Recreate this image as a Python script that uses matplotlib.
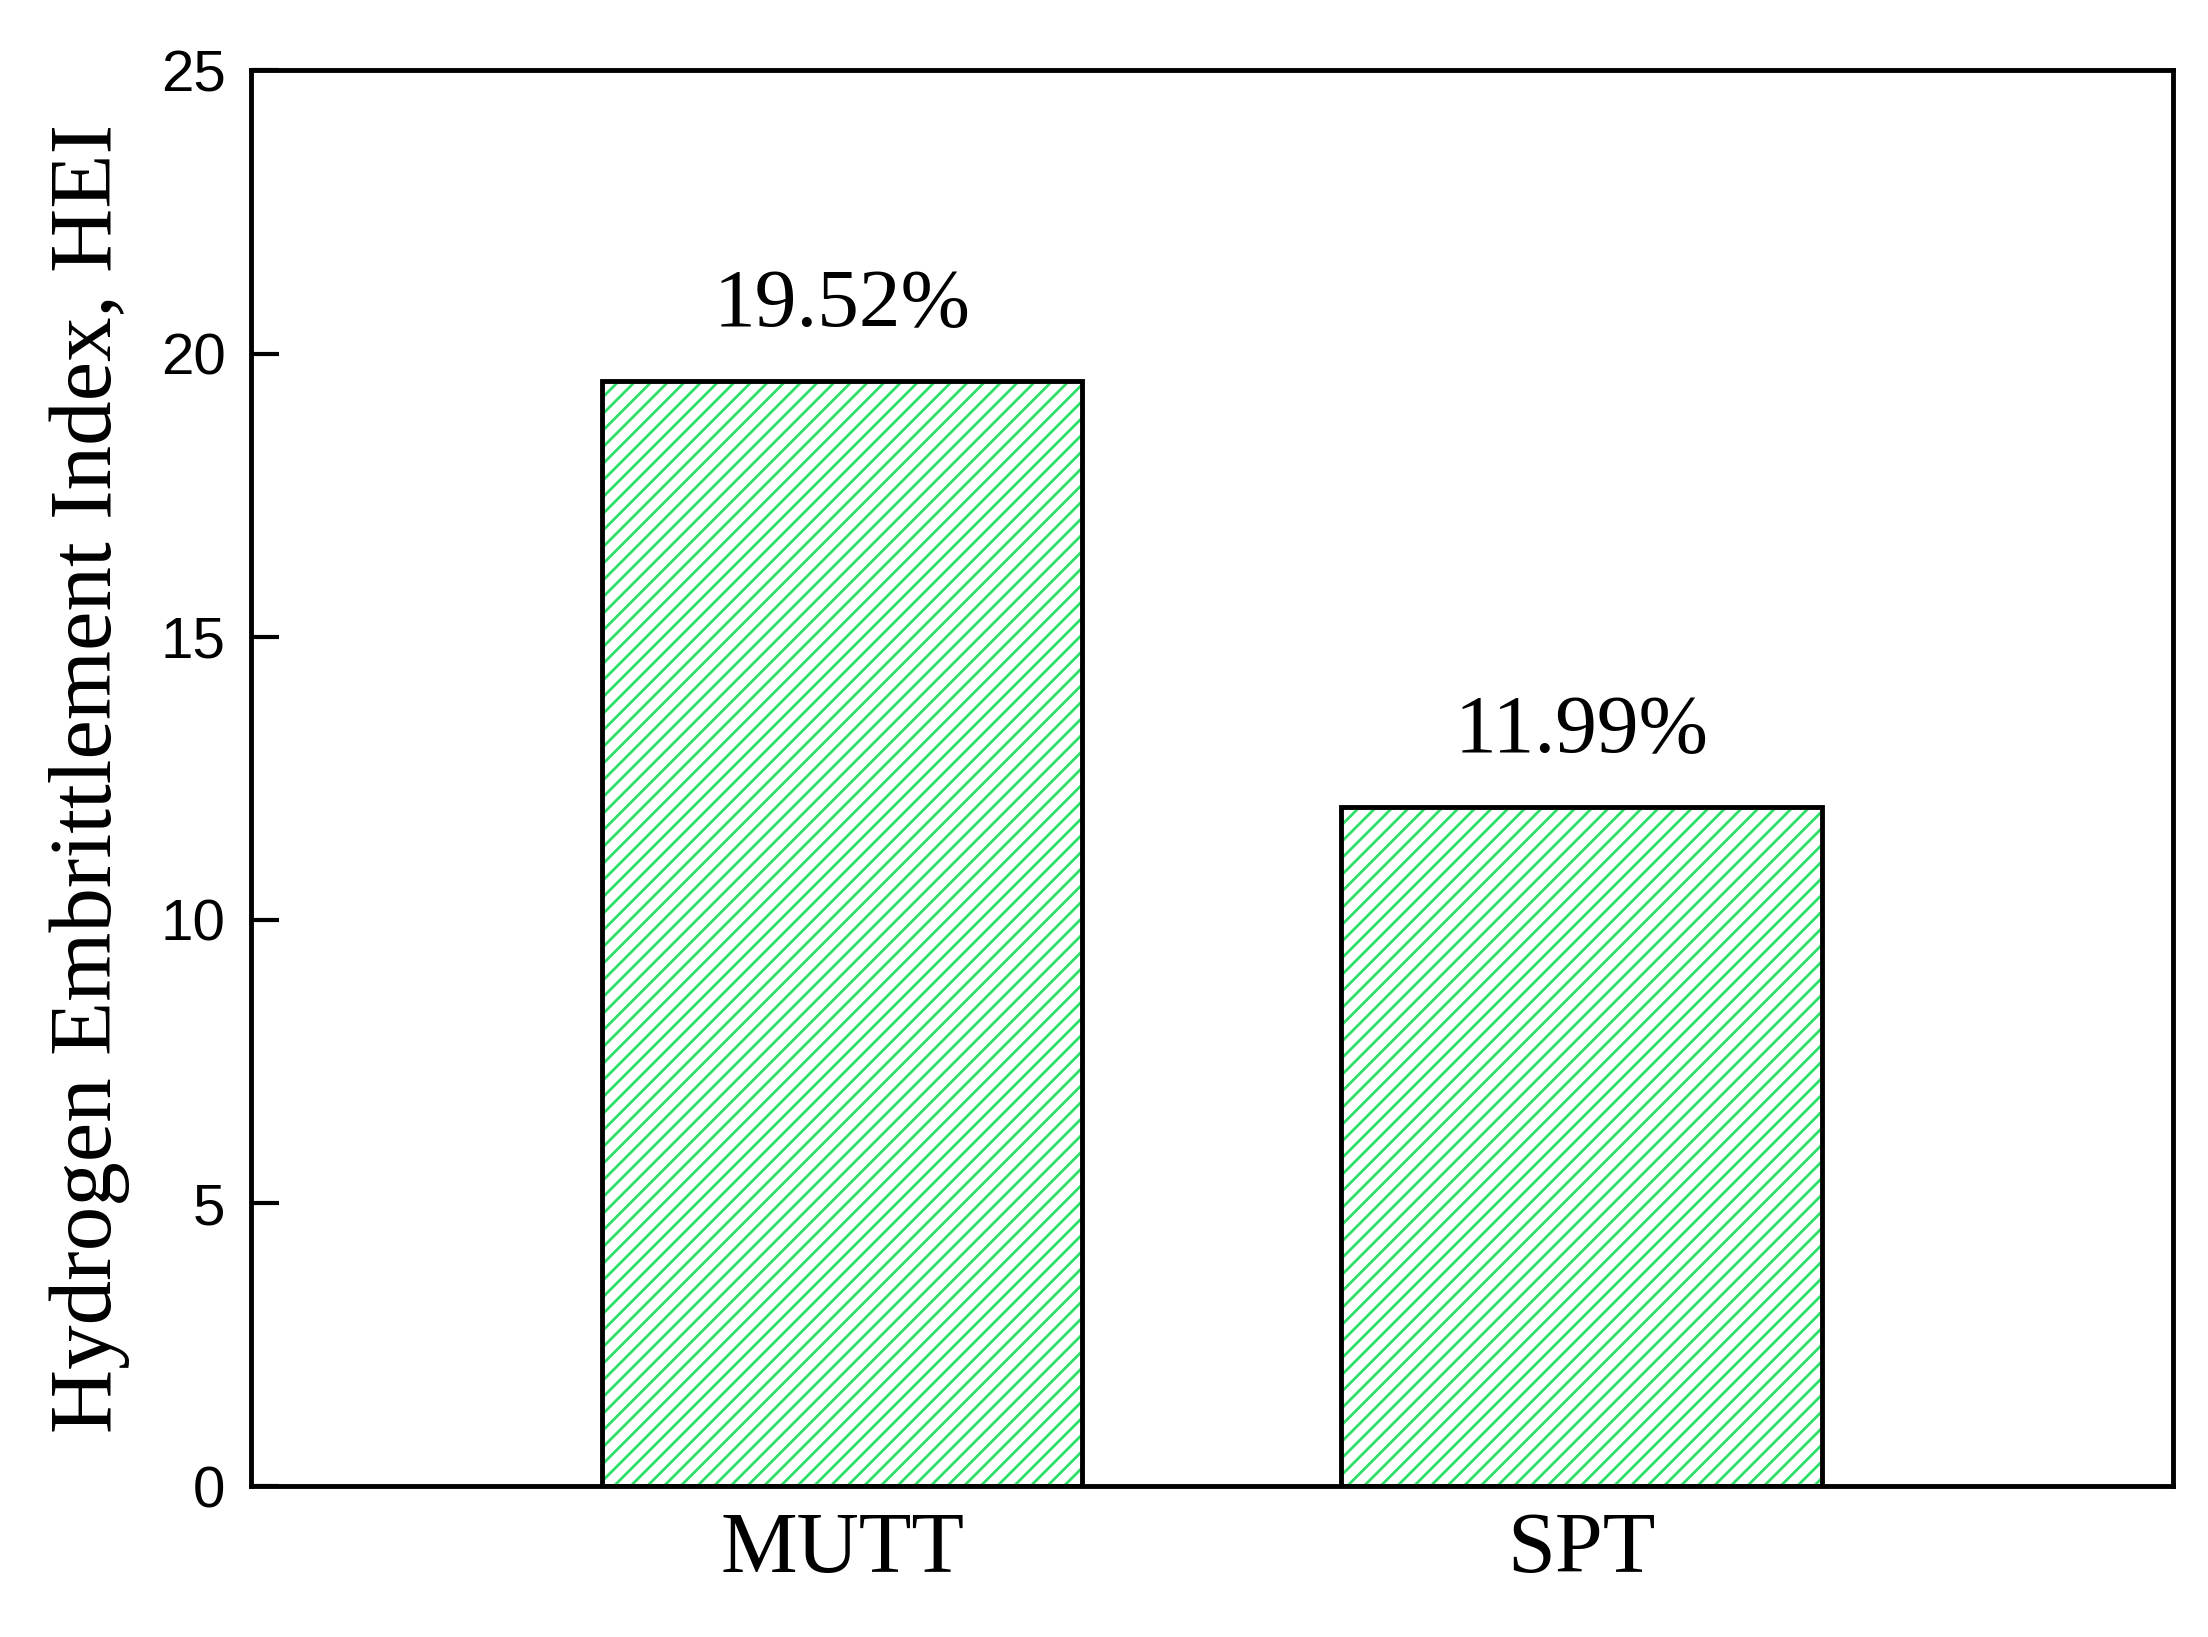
import matplotlib
matplotlib.use("Agg")
import matplotlib.pyplot as plt

categories = ["MUTT", "SPT"]
values = [19.52, 11.99]
labels = ["19.52%", "11.99%"]
yticks = [0, 5, 10, 15, 20, 25]

plt.rcParams['hatch.linewidth'] = 2.0
fig = plt.figure(figsize=(22.08, 16.37), dpi=100)
ax = fig.add_axes([0.1135, 0.092, 0.8705, 0.865])
x = range(len(categories))
ax.bar(x, values, width=0.65, color='white', edgecolor='#2ee06a', hatch='//', linewidth=0)
ax.bar(x, values, width=0.65, color='none', edgecolor='black', linewidth=3.5)
for xi, v, l in zip(x, values, labels):
    ax.text(xi, v + 0.65, l, ha='center', va='bottom', fontsize=60, family='Liberation Serif')
ax.set_xlim(-0.8, 1.8)
ax.set_ylim(0, 25)
ax.set_yticks(yticks)
ax.set_xticks(list(x))
ax.set_xticklabels(categories, fontsize=62, family='Liberation Serif')
for t in ax.get_yticklabels():
    t.set_family('Liberation Sans'); t.set_fontsize(42)
ax.tick_params(axis='y', direction='in', length=20, width=3, pad=18)
ax.tick_params(axis='x', length=0, pad=18)
for s in ax.spines.values():
    s.set_linewidth(3.5)
ax.set_ylabel("Hydrogen Embrittlement Index, HEI", fontsize=64, family='Liberation Serif', labelpad=22)
fig.savefig("out.png", dpi=100)
